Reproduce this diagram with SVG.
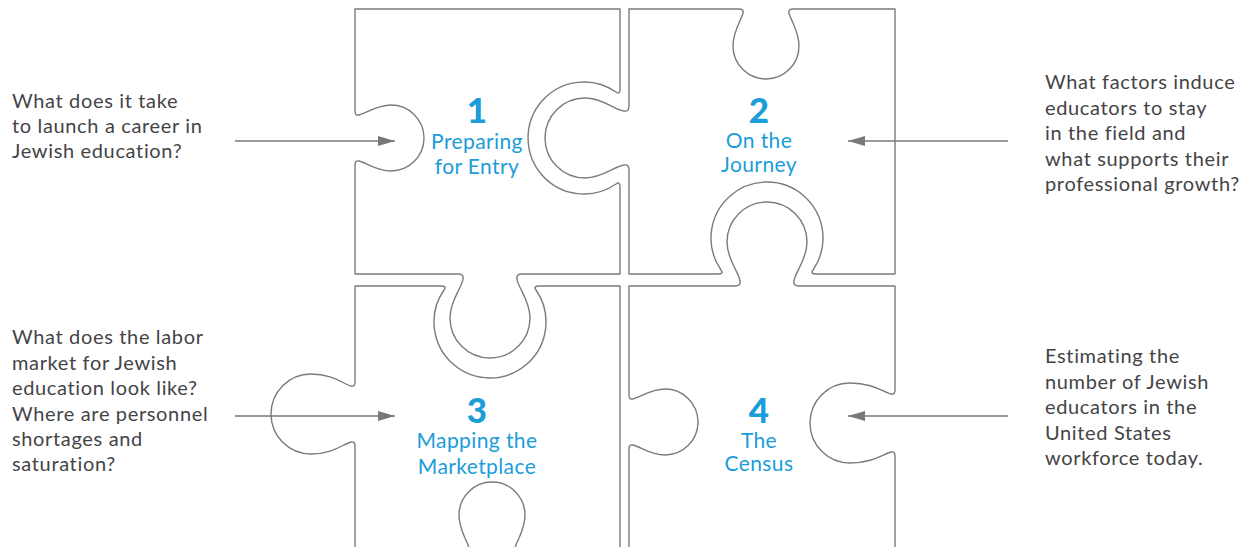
<svg xmlns="http://www.w3.org/2000/svg" width="1256" height="547" viewBox="0 0 1256 547">
<style>
.piece{fill:none;stroke:#7b7b7d;stroke-width:1.4;stroke-linejoin:round}
.q{font-family:Lato,"Noto Sans",sans-serif;font-size:20px;letter-spacing:0.65px;fill:#444446}
.lbl{font-family:Lato,"Noto Sans",sans-serif;font-size:21px;letter-spacing:0.4px;fill:#1a9dd9;text-anchor:middle}
.num{font-size:35px;font-weight:900;letter-spacing:0}
.arrow{stroke:#77787b;stroke-width:1.3;fill:none;marker-end:url(#ah)}
</style>
<defs>
<marker id="ah" markerUnits="userSpaceOnUse" markerWidth="17" markerHeight="11" refX="17" refY="5.5" orient="auto"><path d="M0,0.5 L17,5.5 L0,10.5 Z" fill="#77787b"/></marker>
</defs>
<rect width="1256" height="547" fill="#ffffff"/>
<g id="piece1">
<path class="piece" d="M355,9 H620 V89 Q620,95 616,92 A56,56 0 1 0 616,184 Q620,181 620,187 V274 H522 Q516,274 517,279 C518,288 530,300 530,318 A40,40 0 1 1 450,318 C450,300 462,288 463,279 Q464,274 458,274 H355 V165 Q355,160 359,161 C367,163 377,171 391,171 A33,33 0 1 0 391,105 C377,105 367,113 359,115 Q355,116 355,111 Z"/>
<text class="lbl num" x="477" y="123">1</text>
<text class="lbl" x="477" y="149">Preparing</text>
<text class="lbl" x="477" y="174">for Entry</text>
</g>
<g id="piece2">
<path class="piece" d="M629,9 H739 Q744,9 743,13 C741,21 733,31 733,46 A33,33 0 1 0 799,46 C799,31 791,21 789,13 Q788,9 793,9 H895 V274 H816 Q810,274 813,270 A56,56 0 1 0 721,270 Q724,274 718,274 H629 V170 Q629,164 624,165 C615,166 603,178 585,178 A40,40 0 1 1 585,98 C603,98 615,110 624,111 Q629,112 629,106 Z"/>
<text class="lbl num" x="759" y="123">2</text>
<text class="lbl" x="759" y="148">On the</text>
<text class="lbl" x="759" y="172">Journey</text>
</g>
<g id="piece3">
<path class="piece" d="M355,286 H441 Q447,286 444,290 A56,56 0 1 0 536,290 Q533,286 539,286 H620 V552 H519 Q514,552 515,548 C517,540 525,530 525,515 A33,33 0 1 0 459,515 C459,530 467,540 469,548 Q470,552 465,552 H355 V446 Q355,441 351,442 C343,444 333,454 311,454 A40,40 0 1 1 311,374 C333,374 343,384 351,386 Q355,387 355,382 Z"/>
<text class="lbl num" x="477" y="423">3</text>
<text class="lbl" x="477" y="448">Mapping the</text>
<text class="lbl" x="477" y="474">Marketplace</text>
</g>
<g id="piece4">
<path class="piece" d="M629,286 H735 Q741,286 740,281 C739,272 727,260 727,242 A40,40 0 1 1 807,242 C807,260 795,272 794,281 Q793,286 799,286 H895 V390 Q895,395 891,394 C883,392 873,383 850,383 A40,40 0 1 0 850,463 C873,463 883,454 891,452 Q895,451 895,456 V552 H629 V449 Q629,444 633,445 C641,447 651,455 665,455 A33,33 0 1 0 665,389 C651,389 641,397 633,399 Q629,400 629,395 Z"/>
<text class="lbl num" x="759" y="423">4</text>
<text class="lbl" x="759" y="448">The</text>
<text class="lbl" x="759" y="471">Census</text>
</g>
<g id="question1">
<text class="q" x="12" y="108">What does it take</text>
<text class="q" x="12" y="133">to launch a career in</text>
<text class="q" x="12" y="158">Jewish education?</text>
</g>
<g id="question2">
<text class="q" x="1045" y="89">What factors induce</text>
<text class="q" x="1045" y="114.5">educators to stay</text>
<text class="q" x="1045" y="140">in the field and</text>
<text class="q" x="1045" y="165.5">what supports their</text>
<text class="q" x="1045" y="191">professional growth?</text>
</g>
<g id="question3">
<text class="q" x="12" y="344">What does the labor</text>
<text class="q" x="12" y="369.5">market for Jewish</text>
<text class="q" x="12" y="395">education look like?</text>
<text class="q" x="12" y="420.5">Where are personnel</text>
<text class="q" x="12" y="446">shortages and</text>
<text class="q" x="12" y="471">saturation?</text>
</g>
<g id="question4">
<text class="q" x="1045" y="363">Estimating the</text>
<text class="q" x="1045" y="388.5">number of Jewish</text>
<text class="q" x="1045" y="414">educators in the</text>
<text class="q" x="1045" y="439.5">United States</text>
<text class="q" x="1045" y="465">workforce today.</text>
</g>
<g id="connectors">
<line class="arrow" x1="235" y1="141" x2="395" y2="141"/>
<line class="arrow" x1="1008" y1="141" x2="848" y2="141"/>
<line class="arrow" x1="235" y1="416" x2="395" y2="416"/>
<line class="arrow" x1="1008" y1="416" x2="848" y2="416"/>
</g>
</svg>
